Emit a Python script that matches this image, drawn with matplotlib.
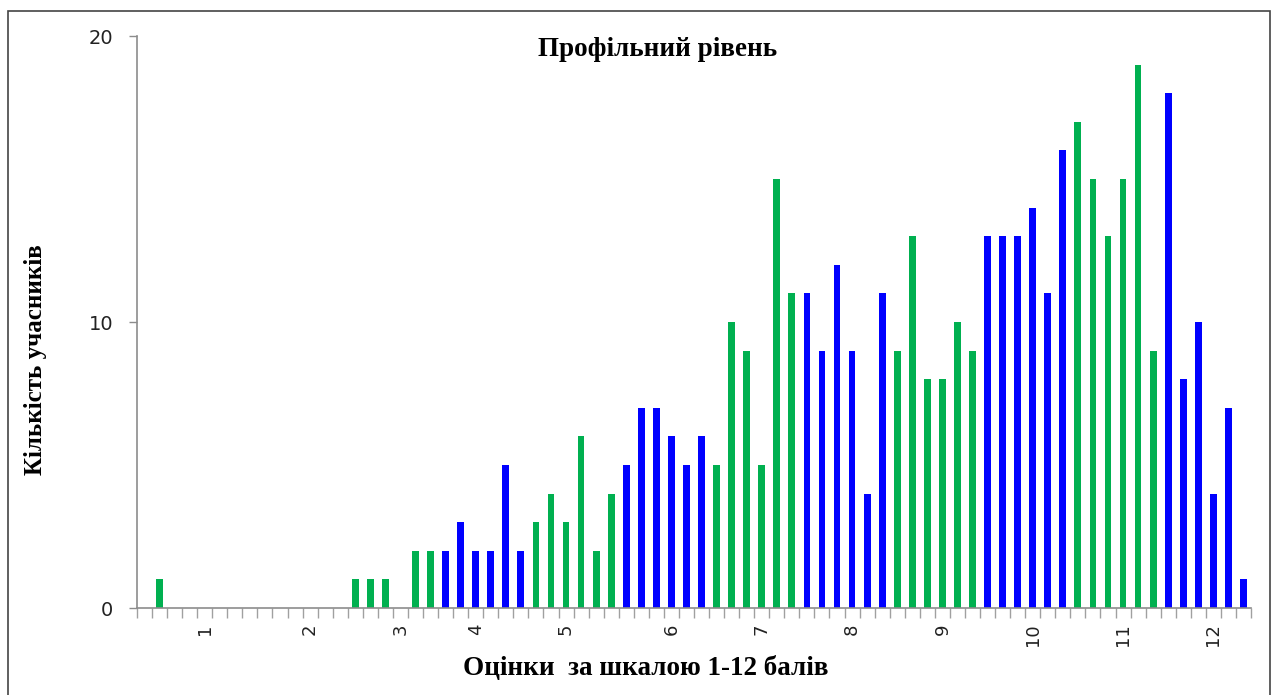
import matplotlib
matplotlib.use("Agg")
import matplotlib.pyplot as plt
from matplotlib.patches import Rectangle
import numpy as np

# --- Data: number of participants per test score (74 score categories) ---
counts = [
    0, 1, 0, 0, 0, 0, 0, 0, 0, 0, 0, 0, 0, 0,
    1, 1, 1, 0, 2, 2,
    2, 3, 2, 2, 5, 2,
    3, 4, 3, 6, 2, 4,
    5, 7, 7, 6, 5, 6,
    5, 10, 9, 5, 15, 11,
    11, 9, 12, 9, 4, 11,
    9, 13, 8, 8, 10, 9,
    13, 13, 13, 14, 11, 16,
    17, 15, 13, 15, 19, 9,
    18, 8, 10, 4, 7, 1,
]
# colour code per category: g = green, b = blue
color_codes = "gggggggggggggg" + "gggggg" + "bbbbbb" + "gggggg" + "bbbbbb" + \
              "gggggg" + "bbbbbb" + "gggggg" + "bbbbbb" + "gggggg" + "bbbbbb"
# 12-point grade labels and the category where each one is shown
grade_labels = ["1", "2", "3", "4", "5", "6", "7", "8", "9", "10", "11", "12"]
grade_positions = [4, 11, 17, 22, 28, 35, 41, 47, 53, 59, 65, 71]

palette = {"g": "#00B050", "b": "#0000FF"}
bar_colors = [palette[c] for c in color_codes]

W, H = 1274, 695
fig = plt.figure(figsize=(W / 100, H / 100), dpi=100)

# outer frame of the chart area
fig.patches.append(Rectangle((8 / W, -0.01), (1270 - 8) / W, 1.01 - 11 / H,
                             transform=fig.transFigure, fill=False,
                             edgecolor="#444444", linewidth=1.2))

ax = fig.add_axes([137 / W, 1 - 608 / H, 1114 / W, (608 - 36) / H])

x = np.arange(len(counts))
ax.bar(x, counts, width=0.45, color=bar_colors, edgecolor="none")

ax.set_xlim(-0.5, len(counts) - 0.5)
ax.set_ylim(0, 20)

# spines
for side in ["top", "right"]:
    ax.spines[side].set_visible(False)
for side in ["left", "bottom"]:
    ax.spines[side].set_color("#8c8c8c")
    ax.spines[side].set_linewidth(1.2)

# y axis
ax.set_yticks([0, 10, 20])
ax.tick_params(axis="y", direction="out", length=6, width=1, color="#8c8c8c",
               pad=11, labelsize=14, labelcolor="#222222")

# x axis: tick marks at category boundaries, grade labels rotated
ax.set_xticks(np.arange(-0.5, len(counts), 1.0), minor=True)
ax.set_xticks(grade_positions)
ax.set_xticklabels(grade_labels, rotation=90, va="top", ha="center")
ax.tick_params(axis="x", which="minor", direction="out", length=7, width=1,
               color="#a0a0a0")
ax.tick_params(axis="x", which="major", length=0, pad=11, labelsize=13,
               labelcolor="#222222")

serif = "Liberation Serif"
fig.text(658 / W, 1 - 50 / H, "Профільний рівень", ha="center", va="center",
         fontsize=19.5, fontweight="bold", family=serif)
fig.text(646 / W, 1 - 669 / H, "Оцінки  за шкалою 1-12 балів", ha="center",
         va="center", fontsize=19.5, fontweight="bold", family=serif)
fig.text(36 / W, 1 - 360 / H, "Кількість учасників", ha="center", va="center",
         rotation=90, fontsize=18, fontweight="bold", family=serif)

fig.savefig("out.png", dpi=100)
